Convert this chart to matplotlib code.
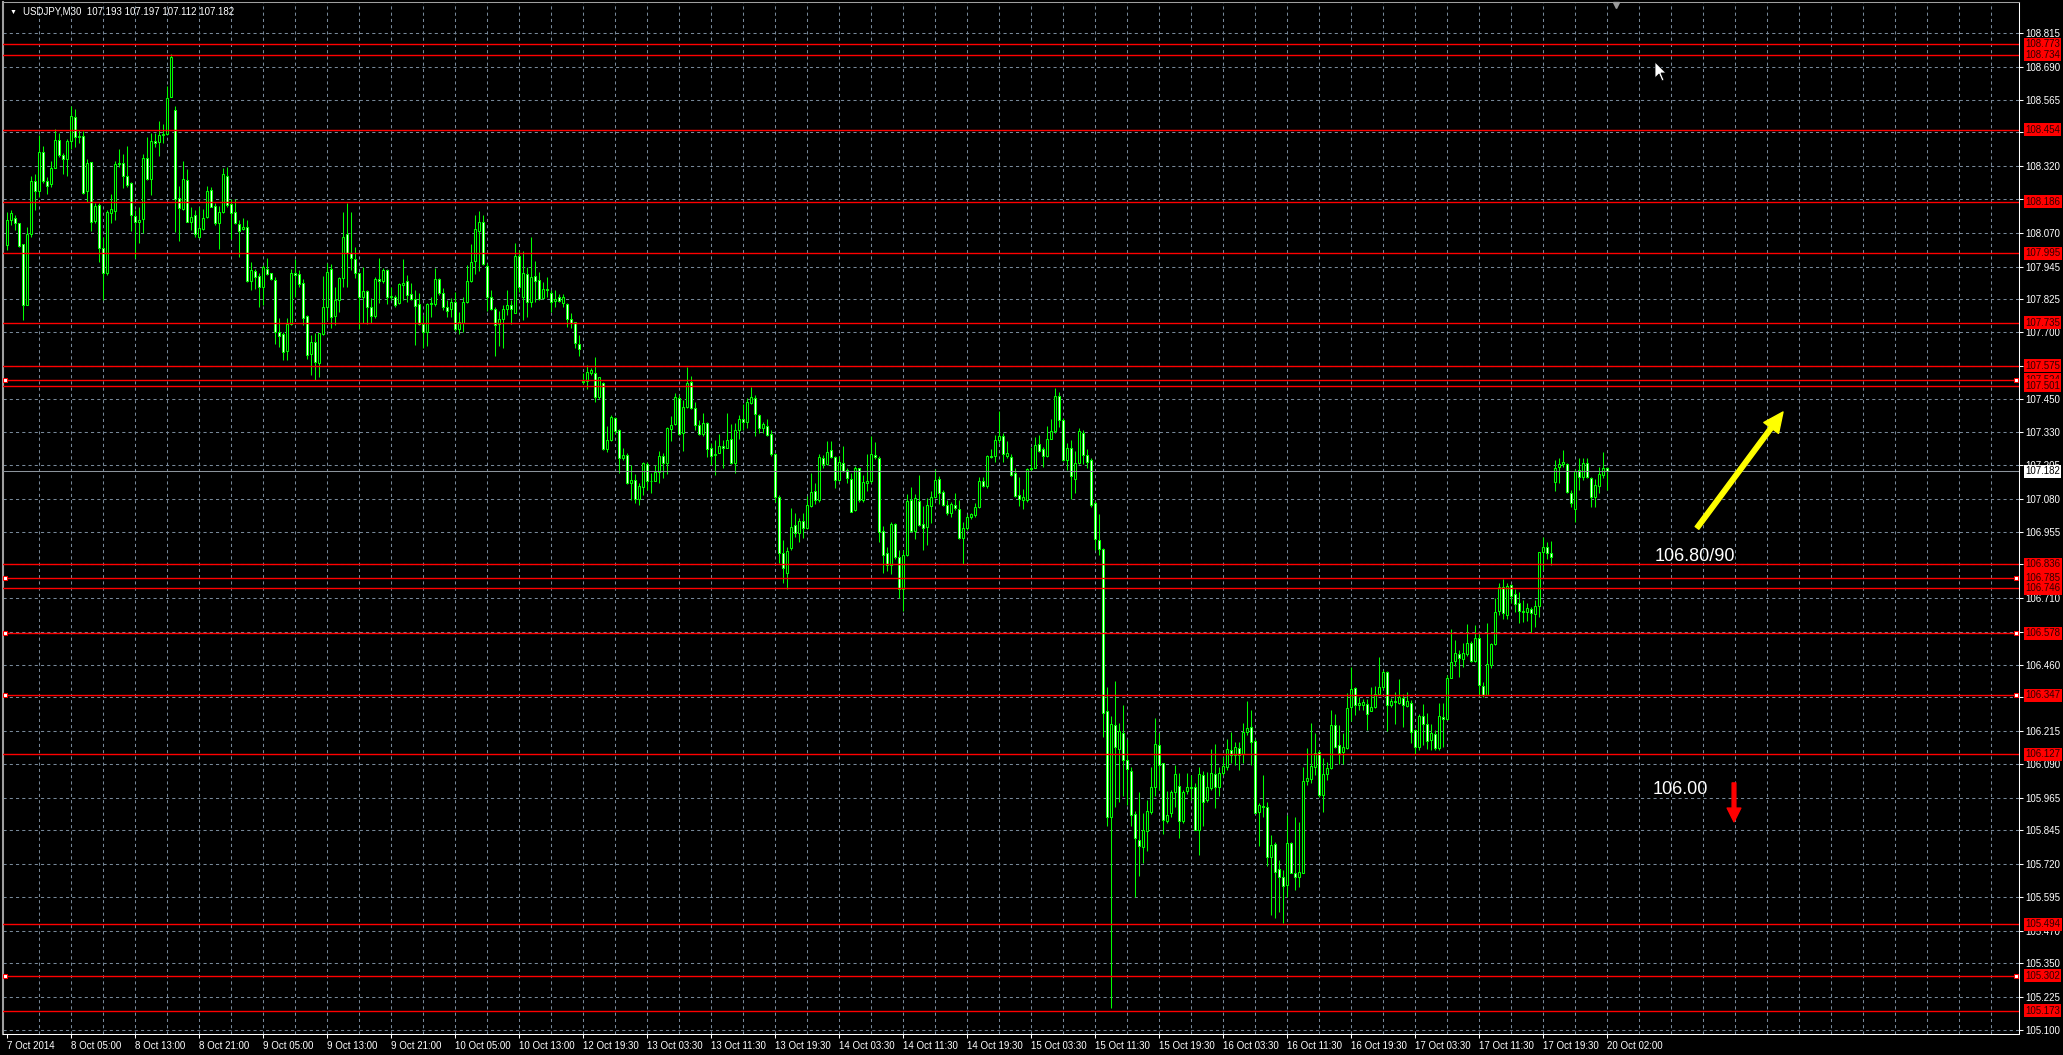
# GRAFICO USDJPY M30 (stile MetaTrader)
# Candele a 30 minuti dal 7 al 20 ottobre 2014, livelli orizzontali e note

import numpy as np
import matplotlib
matplotlib.use("Agg")
import matplotlib.pyplot as plt
import matplotlib.transforms as mtransforms
from matplotlib.patches import FancyArrowPatch, Polygon

plt.rcParams["font.family"] = ["Liberation Sans", "DejaVu Sans"]

# --------------------------------------------------
# DATI
# --------------------------------------------------

apertura = [
    108.025, 108.120, 108.124, 108.106, 108.028, 107.800, 108.066, 108.265, 108.227, 108.370,
    108.265, 108.251, 108.312, 108.415, 108.362, 108.347, 108.411, 108.501, 108.429, 108.431,
    108.227, 108.333, 108.116, 108.174, 108.015, 107.920, 108.143, 108.153, 108.326, 108.329,
    108.283, 108.255, 108.133, 108.112, 108.122, 108.348, 108.270, 108.412, 108.408, 108.434,
    108.437, 108.578, 108.528, 108.199, 108.160, 108.267, 108.112, 108.136, 108.054, 108.085,
    108.128, 108.229, 108.171, 108.108, 108.149, 108.282, 108.178, 108.147, 108.102, 108.083,
    108.093, 107.891, 107.927, 107.909, 107.870, 107.937, 107.920, 107.895, 107.701, 107.693,
    107.631, 107.731, 107.920, 107.916, 107.882, 107.760, 107.618, 107.664, 107.587, 107.693,
    107.795, 107.934, 107.760, 107.820, 107.901, 108.066, 107.994, 107.972, 107.920, 107.832,
    107.852, 107.793, 107.760, 107.897, 107.892, 107.932, 107.832, 107.830, 107.808, 107.875,
    107.890, 107.842, 107.825, 107.804, 107.732, 107.700, 107.804, 107.806, 107.897, 107.845,
    107.793, 107.786, 107.814, 107.714, 107.736, 107.812, 107.890, 107.967, 108.079, 108.112,
    107.948, 107.830, 107.786, 107.730, 107.748, 107.786, 107.801, 107.773, 107.984, 107.833,
    107.916, 107.814, 107.909, 107.894, 107.827, 107.860, 107.845, 107.815, 107.830, 107.810,
    107.804, 107.748, 107.737, 107.656, 107.519, 107.520, 107.547, 107.550, 107.458, 107.510,
    107.265, 107.299, 107.380, 107.336, 107.233, 107.243, 107.137, 107.150, 107.079, 107.123,
    107.209, 107.147, 107.147, 107.181, 107.240, 107.214, 107.341, 107.358, 107.454, 107.324,
    107.421, 107.514, 107.417, 107.354, 107.320, 107.361, 107.268, 107.243, 107.249, 107.278,
    107.268, 107.301, 107.212, 107.336, 107.376, 107.365, 107.436, 107.454, 107.392, 107.343,
    107.349, 107.320, 107.247, 107.085, 106.877, 106.802, 106.895, 106.982, 106.951, 106.997,
    106.971, 107.052, 107.107, 107.076, 107.232, 107.209, 107.260, 107.237, 107.151, 107.213,
    107.185, 107.154, 107.037, 107.193, 107.076, 107.138, 107.146, 107.243, 107.232, 106.958,
    106.877, 106.833, 106.986, 106.864, 106.742, 106.872, 107.076, 106.958, 107.071, 106.985,
    106.974, 107.052, 107.088, 107.152, 107.104, 107.057, 107.026, 107.055, 107.043, 106.935,
    106.971, 107.011, 107.018, 107.049, 107.146, 107.126, 107.240, 107.240, 107.298, 107.315,
    107.240, 107.237, 107.177, 107.094, 107.076, 107.076, 107.190, 107.196, 107.284, 107.264,
    107.240, 107.303, 107.331, 107.462, 107.373, 107.224, 107.268, 107.154, 107.212, 107.326,
    107.243, 107.224, 107.065, 106.927, 106.892, 106.288, 105.893, 106.238, 106.149, 106.206,
    106.105, 106.065, 105.904, 105.807, 105.781, 105.843, 105.912, 106.006, 106.162, 106.094,
    105.878, 105.909, 105.987, 106.011, 105.878, 105.990, 106.006, 106.006, 105.846, 106.050,
    105.957, 106.001, 106.053, 106.004, 106.057, 106.079, 106.143, 106.125, 106.150, 106.127,
    106.209, 106.228, 106.178, 105.914, 105.935, 105.930, 105.746, 105.792, 105.699, 105.669,
    105.641, 105.796, 105.687, 105.672, 105.687, 106.029, 106.036, 106.081, 106.135, 105.976,
    106.054, 106.075, 106.237, 106.161, 106.135, 106.150, 106.302, 106.373, 106.311, 106.311,
    106.314, 106.290, 106.302, 106.352, 106.377, 106.435, 106.311, 106.327, 106.320, 106.336,
    106.307, 106.320, 106.218, 106.153, 106.270, 106.240, 106.181, 106.202, 106.150, 106.268,
    106.258, 106.411, 106.477, 106.500, 106.482, 106.501, 106.543, 106.476, 106.560, 106.382,
    106.348, 106.460, 106.538, 106.663, 106.750, 106.647, 106.758, 106.725, 106.690, 106.661,
    106.656, 106.668, 106.649, 106.681, 106.880, 106.901, 106.876, 107.143, 107.199, 107.208,
    107.208, 107.102, 107.040, 107.186, 107.159, 107.212, 107.156, 107.085, 107.127, 107.168,
    107.193,
]

massimi = [
    108.149, 108.155, 108.137, 108.108, 108.028, 108.091, 108.283, 108.289, 108.434, 108.394,
    108.280, 108.338, 108.457, 108.443, 108.369, 108.421, 108.543, 108.532, 108.453, 108.450,
    108.344, 108.333, 108.183, 108.180, 108.054, 108.155, 108.217, 108.339, 108.383, 108.366,
    108.394, 108.261, 108.155, 108.165, 108.366, 108.426, 108.443, 108.443, 108.488, 108.477,
    108.617, 108.737, 108.543, 108.245, 108.338, 108.308, 108.168, 108.155, 108.168, 108.160,
    108.245, 108.242, 108.180, 108.170, 108.311, 108.317, 108.195, 108.195, 108.118, 108.124,
    108.118, 107.963, 107.934, 107.920, 107.950, 107.975, 107.922, 107.905, 107.755, 107.702,
    107.755, 107.934, 107.972, 107.932, 107.897, 107.763, 107.690, 107.698, 107.698, 107.909,
    107.957, 107.953, 107.870, 107.907, 108.149, 108.183, 108.149, 108.016, 107.926, 107.942,
    107.857, 107.826, 107.907, 107.978, 107.938, 107.934, 107.870, 107.839, 107.882, 107.972,
    107.914, 107.883, 107.858, 107.845, 107.765, 107.808, 107.830, 107.938, 107.901, 107.864,
    107.820, 107.827, 107.851, 107.777, 107.830, 107.951, 108.029, 108.137, 108.152, 108.137,
    107.957, 107.858, 107.796, 107.781, 107.802, 107.858, 107.820, 108.034, 108.007, 108.003,
    107.945, 108.056, 107.966, 107.926, 107.889, 107.905, 107.858, 107.858, 107.842, 107.842,
    107.808, 107.771, 107.740, 107.690, 107.547, 107.578, 107.566, 107.607, 107.535, 107.516,
    107.349, 107.392, 107.383, 107.339, 107.268, 107.249, 107.206, 107.172, 107.140, 107.218,
    107.218, 107.177, 107.206, 107.259, 107.249, 107.346, 107.388, 107.475, 107.466, 107.448,
    107.570, 107.537, 107.442, 107.373, 107.398, 107.367, 107.286, 107.299, 107.320, 107.299,
    107.398, 107.358, 107.361, 107.392, 107.433, 107.454, 107.495, 107.466, 107.396, 107.367,
    107.377, 107.336, 107.249, 107.094, 106.926, 106.901, 107.044, 107.026, 107.007, 107.025,
    107.091, 107.177, 107.138, 107.248, 107.243, 107.295, 107.295, 107.240, 107.240, 107.275,
    107.193, 107.174, 107.201, 107.193, 107.170, 107.248, 107.315, 107.290, 107.240, 106.977,
    106.899, 106.993, 106.989, 106.888, 106.888, 107.099, 107.123, 107.096, 107.170, 107.052,
    107.083, 107.107, 107.190, 107.165, 107.112, 107.076, 107.068, 107.102, 107.076, 106.993,
    107.024, 107.027, 107.065, 107.159, 107.159, 107.243, 107.264, 107.318, 107.405, 107.326,
    107.295, 107.248, 107.193, 107.162, 107.115, 107.196, 107.271, 107.311, 107.318, 107.271,
    107.350, 107.378, 107.491, 107.478, 107.381, 107.287, 107.300, 107.256, 107.342, 107.337,
    107.264, 107.232, 107.071, 107.024, 106.896, 106.379, 106.269, 106.402, 106.246, 106.313,
    106.183, 106.081, 105.917, 105.987, 105.909, 105.956, 106.081, 106.261, 106.206, 106.097,
    105.990, 105.995, 106.089, 106.058, 105.995, 106.058, 106.050, 106.019, 106.081, 106.065,
    106.063, 106.146, 106.166, 106.081, 106.119, 106.183, 106.212, 106.174, 106.174, 106.243,
    106.326, 106.293, 106.183, 105.945, 106.050, 105.951, 105.827, 105.802, 105.734, 105.696,
    105.901, 105.802, 105.895, 105.876, 106.081, 106.150, 106.245, 106.206, 106.144, 106.113,
    106.100, 106.293, 106.278, 106.237, 106.208, 106.355, 106.454, 106.377, 106.340, 106.332,
    106.332, 106.379, 106.382, 106.489, 106.442, 106.439, 106.336, 106.361, 106.410, 106.352,
    106.361, 106.330, 106.221, 106.278, 106.315, 106.280, 106.240, 106.218, 106.320, 106.320,
    106.423, 106.593, 106.553, 106.516, 106.541, 106.613, 106.551, 106.609, 106.581, 106.398,
    106.615, 106.543, 106.709, 106.767, 106.779, 106.764, 106.762, 106.742, 106.733, 106.702,
    106.692, 106.678, 106.702, 106.882, 106.936, 106.920, 106.923, 107.224, 107.230, 107.261,
    107.212, 107.112, 107.189, 107.230, 107.230, 107.230, 107.159, 107.152, 107.199, 107.253,
    107.197,
]

minimi = [
    108.006, 108.099, 108.081, 108.019, 107.745, 107.800, 108.054, 108.155, 108.203, 108.255,
    108.215, 108.242, 108.312, 108.354, 108.289, 108.283, 108.381, 108.391, 108.404, 108.215,
    108.186, 108.077, 108.106, 107.963, 107.822, 107.913, 108.106, 108.118, 108.317, 108.239,
    108.240, 108.077, 107.978, 108.031, 108.068, 108.267, 108.211, 108.389, 108.358, 108.404,
    108.435, 108.578, 108.075, 108.041, 108.155, 108.112, 108.081, 108.056, 108.050, 108.081,
    108.124, 108.165, 108.099, 108.010, 108.145, 108.168, 108.046, 108.103, 107.982, 108.081,
    107.888, 107.857, 107.860, 107.795, 107.800, 107.912, 107.895, 107.656, 107.646, 107.597,
    107.597, 107.727, 107.832, 107.870, 107.727, 107.599, 107.541, 107.522, 107.534, 107.690,
    107.745, 107.715, 107.727, 107.777, 107.870, 107.867, 107.932, 107.901, 107.711, 107.736,
    107.731, 107.736, 107.752, 107.808, 107.882, 107.805, 107.822, 107.795, 107.805, 107.820,
    107.814, 107.820, 107.653, 107.727, 107.643, 107.647, 107.756, 107.798, 107.839, 107.783,
    107.758, 107.758, 107.706, 107.694, 107.702, 107.808, 107.889, 107.917, 107.928, 107.951,
    107.781, 107.783, 107.613, 107.647, 107.643, 107.765, 107.730, 107.771, 107.851, 107.746,
    107.758, 107.796, 107.814, 107.820, 107.823, 107.833, 107.777, 107.796, 107.814, 107.796,
    107.721, 107.717, 107.640, 107.613, 107.506, 107.489, 107.541, 107.442, 107.450, 107.262,
    107.255, 107.296, 107.321, 107.175, 107.224, 107.135, 107.075, 107.065, 107.055, 107.094,
    107.112, 107.103, 107.144, 107.140, 107.156, 107.172, 107.296, 107.355, 107.317, 107.259,
    107.417, 107.413, 107.336, 107.316, 107.314, 107.237, 107.206, 107.168, 107.249, 107.193,
    107.268, 107.209, 107.177, 107.301, 107.336, 107.342, 107.433, 107.314, 107.326, 107.324,
    107.314, 107.239, 107.069, 106.839, 106.765, 106.742, 106.889, 106.939, 106.920, 106.935,
    106.966, 107.049, 107.060, 107.068, 107.193, 107.206, 107.232, 107.118, 107.146, 107.181,
    107.138, 107.029, 107.033, 107.068, 107.068, 107.107, 107.138, 107.228, 106.919, 106.802,
    106.809, 106.798, 106.856, 106.711, 106.661, 106.867, 106.955, 106.930, 106.979, 106.888,
    106.908, 106.989, 107.083, 107.060, 107.052, 107.021, 107.013, 107.037, 106.930, 106.838,
    106.963, 107.005, 107.013, 107.044, 107.123, 107.118, 107.232, 107.217, 107.287, 107.217,
    107.232, 107.165, 107.087, 107.052, 107.041, 107.068, 107.182, 107.193, 107.253, 107.198,
    107.237, 107.303, 107.326, 107.347, 107.221, 107.185, 107.080, 107.102, 107.209, 107.209,
    107.193, 107.049, 106.888, 106.872, 106.191, 105.862, 105.181, 105.932, 105.951, 105.972,
    105.940, 105.862, 105.596, 105.674, 105.721, 105.768, 105.906, 105.972, 105.995, 105.831,
    105.870, 105.893, 105.932, 105.815, 105.870, 105.979, 105.956, 105.846, 105.752, 105.860,
    105.951, 105.995, 105.926, 105.972, 106.050, 106.069, 106.094, 106.088, 106.069, 106.094,
    106.199, 106.088, 105.908, 105.786, 105.895, 105.711, 105.529, 105.516, 105.541, 105.498,
    105.597, 105.684, 105.622, 105.634, 105.684, 106.013, 106.022, 106.050, 105.970, 105.914,
    106.032, 106.073, 106.150, 106.091, 106.091, 106.147, 106.253, 106.274, 106.293, 106.293,
    106.218, 106.290, 106.299, 106.348, 106.372, 106.216, 106.305, 106.240, 106.315, 106.230,
    106.305, 106.168, 106.129, 106.144, 106.162, 106.146, 106.144, 106.144, 106.144, 106.156,
    106.255, 106.411, 106.457, 106.417, 106.454, 106.494, 106.473, 106.473, 106.345, 106.340,
    106.348, 106.448, 106.535, 106.647, 106.633, 106.630, 106.690, 106.659, 106.618, 106.622,
    106.625, 106.578, 106.603, 106.640, 106.814, 106.854, 106.833, 107.110, 107.140, 107.199,
    107.102, 107.048, 106.994, 107.112, 107.149, 107.156, 107.048, 107.050, 107.100, 107.156,
    107.112,
]

chiusure = [
    108.118, 108.143, 108.106, 108.021, 107.800, 108.066, 108.265, 108.227, 108.370, 108.265,
    108.245, 108.312, 108.415, 108.362, 108.347, 108.411, 108.504, 108.429, 108.431, 108.220,
    108.329, 108.112, 108.170, 108.015, 107.920, 108.147, 108.158, 108.326, 108.329, 108.283,
    108.249, 108.136, 108.109, 108.120, 108.348, 108.270, 108.412, 108.404, 108.434, 108.437,
    108.571, 108.724, 108.195, 108.164, 108.270, 108.112, 108.131, 108.065, 108.087, 108.124,
    108.225, 108.168, 108.108, 108.147, 108.291, 108.174, 108.143, 108.106, 108.078, 108.093,
    107.891, 107.932, 107.907, 107.870, 107.942, 107.916, 107.897, 107.702, 107.687, 107.628,
    107.731, 107.920, 107.913, 107.878, 107.755, 107.614, 107.664, 107.590, 107.696, 107.795,
    107.926, 107.758, 107.822, 107.901, 108.056, 107.996, 107.975, 107.920, 107.832, 107.852,
    107.795, 107.760, 107.897, 107.892, 107.932, 107.832, 107.835, 107.800, 107.880, 107.883,
    107.837, 107.824, 107.798, 107.731, 107.700, 107.804, 107.808, 107.897, 107.845, 107.796,
    107.781, 107.814, 107.711, 107.737, 107.812, 107.890, 107.963, 108.086, 108.110, 107.953,
    107.830, 107.786, 107.726, 107.748, 107.786, 107.801, 107.788, 107.984, 107.870, 107.920,
    107.814, 107.905, 107.890, 107.824, 107.860, 107.857, 107.812, 107.823, 107.818, 107.833,
    107.748, 107.733, 107.661, 107.638, 107.513, 107.551, 107.560, 107.458, 107.532, 107.265,
    107.299, 107.383, 107.332, 107.233, 107.243, 107.137, 107.150, 107.079, 107.127, 107.212,
    107.147, 107.144, 107.181, 107.240, 107.214, 107.342, 107.353, 107.458, 107.320, 107.421,
    107.510, 107.417, 107.355, 107.320, 107.361, 107.264, 107.240, 107.247, 107.278, 107.268,
    107.299, 107.212, 107.336, 107.376, 107.367, 107.439, 107.458, 107.394, 107.345, 107.358,
    107.318, 107.247, 107.088, 106.877, 106.821, 106.885, 106.973, 106.951, 106.995, 106.971,
    107.055, 107.104, 107.076, 107.235, 107.209, 107.253, 107.235, 107.151, 107.217, 107.182,
    107.157, 107.032, 107.196, 107.076, 107.143, 107.146, 107.245, 107.235, 106.955, 106.872,
    106.833, 106.986, 106.864, 106.742, 106.872, 107.071, 106.958, 107.083, 106.982, 106.971,
    107.055, 107.088, 107.149, 107.102, 107.055, 107.026, 107.059, 107.044, 106.933, 106.971,
    107.013, 107.024, 107.049, 107.146, 107.127, 107.240, 107.235, 107.298, 107.315, 107.245,
    107.251, 107.170, 107.090, 107.079, 107.088, 107.190, 107.196, 107.279, 107.256, 107.240,
    107.303, 107.334, 107.462, 107.373, 107.224, 107.268, 107.165, 107.212, 107.331, 107.243,
    107.217, 107.055, 106.930, 106.892, 106.282, 105.893, 106.241, 106.156, 106.214, 106.105,
    106.073, 105.901, 105.815, 105.787, 105.846, 105.917, 106.006, 106.167, 106.089, 105.881,
    105.901, 105.987, 106.053, 105.878, 105.987, 106.006, 106.003, 105.846, 106.053, 105.950,
    106.007, 106.057, 106.007, 106.057, 106.084, 106.146, 106.125, 106.153, 106.125, 106.209,
    106.224, 106.175, 105.910, 105.939, 105.933, 105.746, 105.790, 105.690, 105.672, 105.637,
    105.796, 105.687, 105.672, 105.690, 106.028, 106.038, 106.085, 106.134, 105.976, 106.053,
    106.075, 106.237, 106.156, 106.134, 106.153, 106.299, 106.370, 106.311, 106.317, 106.324,
    106.278, 106.305, 106.351, 106.379, 106.433, 106.311, 106.326, 106.324, 106.340, 106.311,
    106.326, 106.212, 106.156, 106.270, 106.240, 106.178, 106.206, 106.152, 106.270, 106.258,
    106.411, 106.473, 106.504, 106.485, 106.504, 106.543, 106.476, 106.560, 106.386, 106.348,
    106.463, 106.538, 106.659, 106.752, 106.653, 106.756, 106.717, 106.686, 106.663, 106.658,
    106.671, 106.653, 106.681, 106.880, 106.899, 106.876, 106.861, 107.195, 107.211, 107.218,
    107.106, 107.063, 107.184, 107.159, 107.212, 107.159, 107.087, 107.131, 107.172, 107.193,
    107.182,
]

# etichette dell'asse dei tempi (una ogni 16 candele)
etichette_tempo = [
    "7 Oct 2014", "8 Oct 05:00", "8 Oct 13:00", "8 Oct 21:00", "9 Oct 05:00",
    "9 Oct 13:00", "9 Oct 21:00", "10 Oct 05:00", "10 Oct 13:00", "12 Oct 19:30",
    "13 Oct 03:30", "13 Oct 11:30", "13 Oct 19:30", "14 Oct 03:30", "14 Oct 11:30",
    "14 Oct 19:30", "15 Oct 03:30", "15 Oct 11:30", "15 Oct 19:30", "16 Oct 03:30",
    "16 Oct 11:30", "16 Oct 19:30", "17 Oct 03:30", "17 Oct 11:30", "17 Oct 19:30",
    "20 Oct 02:00",
]

# prezzi della scala a destra
valori_asse_y = [
    105.100, 105.225, 105.350, 105.470, 105.595, 105.720, 105.845, 105.965,
    106.090, 106.215, 106.340, 106.460, 106.585, 106.710, 106.835, 106.955,
    107.080, 107.205, 107.330, 107.450, 107.575, 107.700, 107.825, 107.945,
    108.070, 108.195, 108.320, 108.445, 108.565, 108.690, 108.815,
]

# linee orizzontali rosse (supporti / resistenze)
livelli_rossi = [
    108.773, 108.734, 108.454, 108.186, 107.995, 107.735, 107.575, 107.524,
    107.501, 106.836, 106.785, 106.746, 106.578, 106.347, 106.127, 105.494,
    105.302, 105.173,
]
livelli_selezionati = [107.524, 106.785, 106.578, 106.347, 105.302]

prezzo_attuale = 107.182
simbolo = "USDJPY,M30"

# note scritte a mano sul grafico
nota_su = "106.80/90"
nota_giu = "106.00"

# --------------------------------------------------
# FIGURA E ASSI
# --------------------------------------------------

verde = "#00ff00"
griglia = "#778899"

fig = plt.figure(figsize=(20.63, 10.55), dpi=100, facecolor="black")
ax = fig.add_axes([3 / 2063, 21 / 1055, 2016 / 2063, 1032 / 1055])
ax.set_facecolor("black")
ax.set_xlim(-1, 503)
ax.set_ylim(105.0855, 108.9305)

# griglia tratteggiata
for gx in range(8, 504, 8):
    ax.axvline(gx, color=griglia, lw=0.75, ls=(0, (3, 3)), zorder=0.5)
for gy in valori_asse_y:
    ax.axhline(gy, color=griglia, lw=0.75, ls=(0, (3, 3)), zorder=0.5)

# --------------------------------------------------
# CANDELE
# --------------------------------------------------

o = np.array(apertura)
h = np.array(massimi)
l = np.array(minimi)
c = np.array(chiusure)
x = np.arange(len(o))

ax.vlines(x, l, h, color=verde, lw=0.75, zorder=2)

rialzo = c >= o  # candela rialzista = corpo nero, ribassista = corpo bianco
ax.bar(x[rialzo], (c - o)[rialzo], bottom=o[rialzo], width=0.5,
       color="black", edgecolor=verde, linewidth=0.75, zorder=2.1)
ax.bar(x[~rialzo], (o - c)[~rialzo], bottom=c[~rialzo], width=0.5,
       color="white", edgecolor=verde, linewidth=0.75, zorder=2.1)

# --------------------------------------------------
# LIVELLI E PREZZO ATTUALE
# --------------------------------------------------

trasf = mtransforms.blended_transform_factory(ax.transAxes, ax.transData)

for livello in livelli_rossi:
    ax.axhline(livello, color="red", lw=1.0, zorder=3)

for livello in livelli_selezionati:
    ax.plot([0.0012, 0.9985], [livello, livello], transform=trasf, ls="none",
            marker="s", ms=3, mfc="white", mec="red", mew=0.75, zorder=4, clip_on=False)

ax.axhline(prezzo_attuale, color="#8c949c", lw=0.75, zorder=3)

# etichette rosse sulla scala
for livello in livelli_rossi:
    ax.text(1.003, livello, f"{livello:.3f}", transform=trasf, fontsize=7,
            color="#300000", va="center", ha="left", clip_on=False, zorder=6,
            bbox=dict(boxstyle="square,pad=0.15", fc="red", ec="none"))

ax.text(1.003, prezzo_attuale, f"{prezzo_attuale:.3f}", transform=trasf, fontsize=7,
        color="black", va="center", ha="left", clip_on=False, zorder=6,
        bbox=dict(boxstyle="square,pad=0.15", fc="white", ec="none"))

# --------------------------------------------------
# ASSI, TACCHE E BORDI
# --------------------------------------------------

ax.set_xticks(np.arange(0, len(o), 16))
ax.set_xticklabels(etichette_tempo, ha="left")
ax.yaxis.tick_right()
ax.set_yticks(valori_asse_y)
ax.set_yticklabels([f"{v:.3f}" for v in valori_asse_y])
ax.tick_params(axis="both", colors="white", labelsize=7, length=3, width=0.75, direction="out")
ax.tick_params(axis="y", pad=1.5)
ax.tick_params(axis="x", pad=2)

for lato in ["right", "bottom"]:
    ax.spines[lato].set_color("white")
    ax.spines[lato].set_linewidth(0.75)
ax.spines["left"].set_color("#a0a0a0")
ax.spines["left"].set_linewidth(1.5)
ax.spines["top"].set_color("#a0a0a0")
ax.spines["top"].set_linewidth(0.75)

# --------------------------------------------------
# INTESTAZIONE E NOTE
# --------------------------------------------------

intestazione = f"{simbolo}  {o[-1]:.3f} {h[-1]:.3f} {l[-1]:.3f} {c[-1]:.3f}"
fig.text(10 / 2063, 1 - 12 / 1055, "▼", fontsize=5, color="white", va="center")
fig.text(23 / 2063, 1 - 12 / 1055, intestazione, fontsize=7, color="white", va="center")

# segnaposto dello spostamento del grafico
ax.plot([402.2], [108.918], marker="v", color="#9a9a9a", ms=4, clip_on=False, zorder=5)

ax.text(412, 106.863, nota_su, color="white", fontsize=13, va="center", ha="left", zorder=7)
ax.text(411.4, 105.998, nota_giu, color="white", fontsize=13, va="center", ha="left", zorder=7)

freccia_gialla = FancyArrowPatch(
    (422.5, 106.971), (444, 107.403),
    arrowstyle="simple,head_length=1.3,head_width=1.2,tail_width=0.3",
    mutation_scale=11, color="yellow", shrinkA=0, shrinkB=0, zorder=7)
ax.add_patch(freccia_gialla)

freccia_rossa = FancyArrowPatch(
    (431.75, 106.021), (431.75, 105.876),
    arrowstyle="simple,head_length=1.1,head_width=1.1,tail_width=0.3",
    mutation_scale=9, color="red", shrinkA=0, shrinkB=0, zorder=7)
ax.add_patch(freccia_rossa)

# puntatore del mouse (in pixel della figura)
punta_x, punta_y = 1655, 1055 - 62
forma = [(0, 0), (0, -16), (4, -12), (7, -19), (9, -18), (6, -11), (11, -11)]
cursore = Polygon([(punta_x + dx, punta_y + dy) for dx, dy in forma], closed=True,
                  transform=mtransforms.IdentityTransform(), fc="white", ec="black",
                  lw=0.6, zorder=8)
fig.add_artist(cursore)

fig.savefig("out.png", dpi=100, facecolor="black")
